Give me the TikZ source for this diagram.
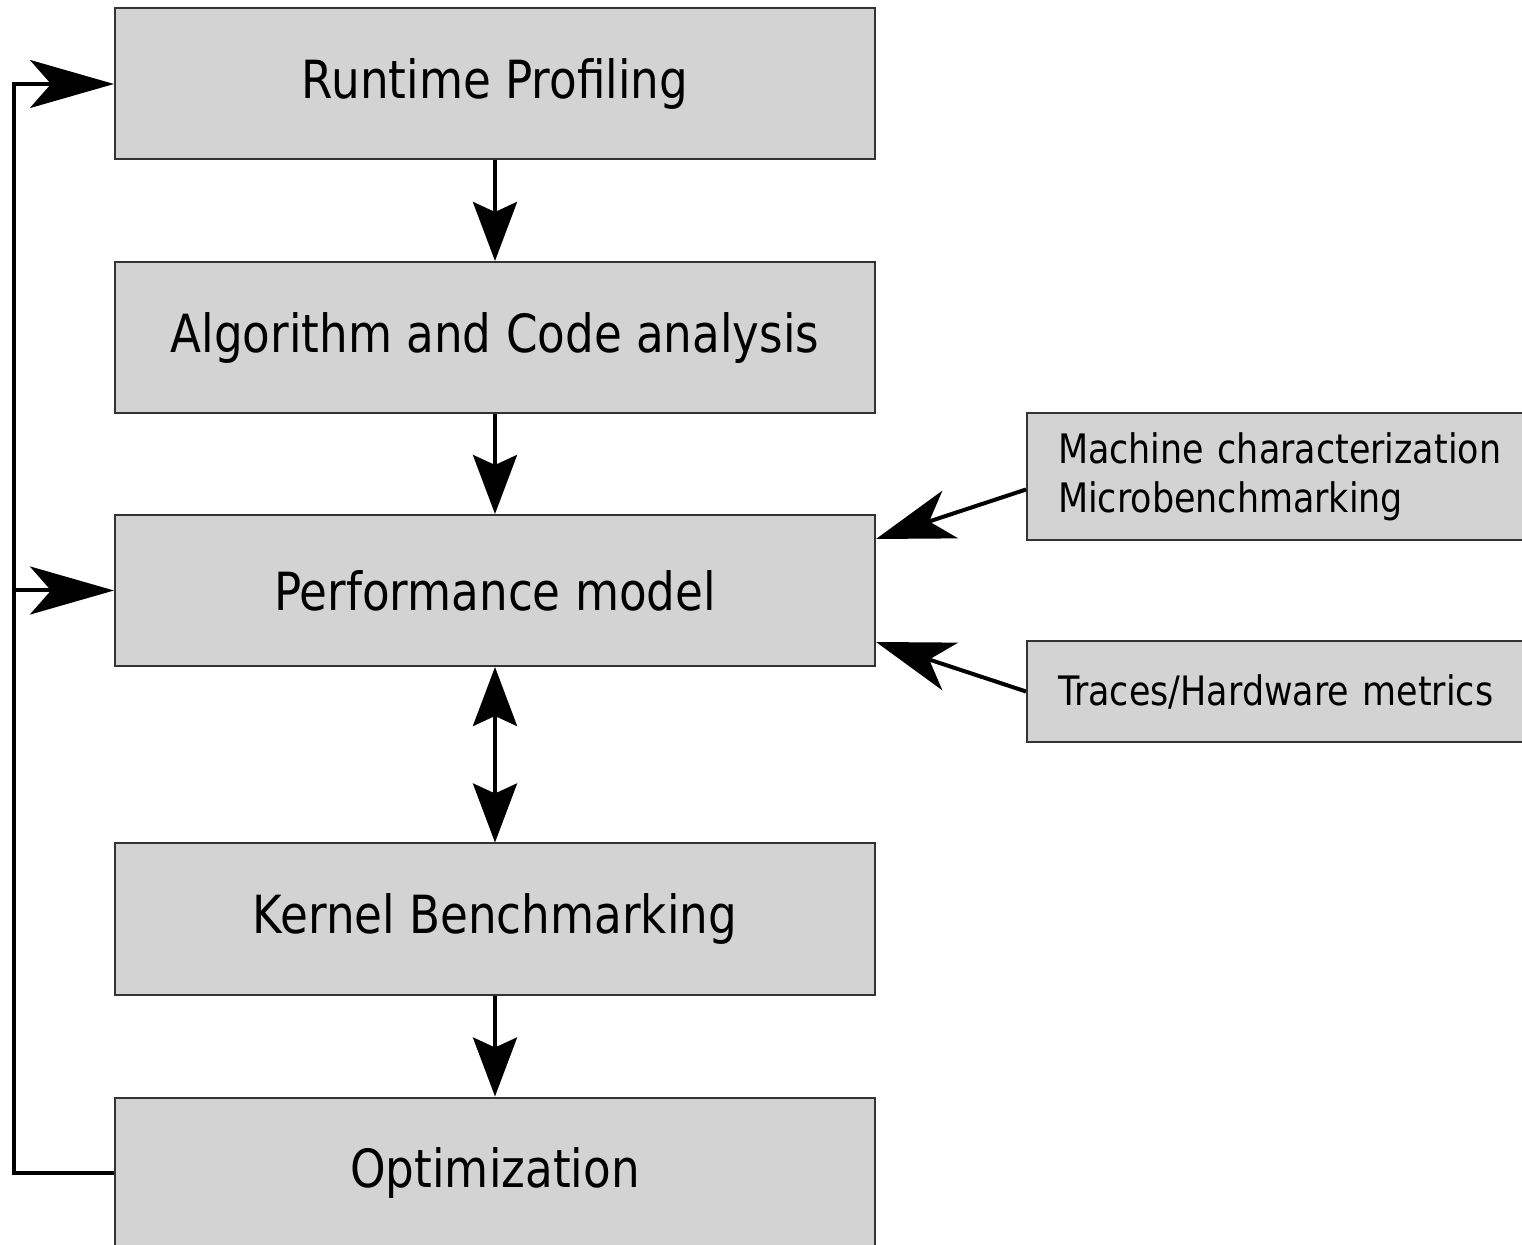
\documentclass[tikz,border=0pt]{standalone}
\usepackage{fontspec}
\setmainfont[FakeStretch=0.86]{DejaVu Sans}
\usetikzlibrary{arrows.meta,calc}
\definecolor{boxfill}{HTML}{D3D3D3}
\definecolor{boxline}{HTML}{333333}
\begin{document}
\begin{tikzpicture}[x=0.5pt,y=-0.5pt,
  mainbox/.style={draw=boxline,line width=1pt,fill=boxfill,minimum width=380pt,minimum height=75.5pt,inner sep=0pt,font=\fontsize{26.3}{30}\selectfont},
  sidebox/.style={draw=boxline,line width=1pt,fill=boxfill,inner xsep=15.5pt,inner ysep=0pt,align=left,font=\fontsize{20.3}{24.5}\selectfont},
  conn/.style={line width=2pt,black},
  tipdown/.style={-{Stealth[length=29.5pt,width=22pt,inset=5pt]}},
  tipboth/.style={{Stealth[length=29.5pt,width=22pt,inset=5pt]}-{Stealth[length=29.5pt,width=22pt,inset=5pt]}},
  tipleft/.style={-{Stealth[length=42pt,width=24pt,inset=10.5pt]}},
  tipside/.style={-{Stealth[length=39pt,width=25pt,inset=11pt]}}]
\clip (0,0) rectangle (1522,1245);
\useasboundingbox (0,0) rectangle (1522,1245);
\node[mainbox] (rp) at (495,84) {Runtime Profiling};
\node[mainbox] (ac) at (495,337.5) {Algorithm and Code analysis};
\node[mainbox] (pm) at (495,590.5) {Performance model};
\node[mainbox] (kb) at (495,919) {Kernel Benchmarking};
\node[mainbox] (op) at (495,1173) {Optimization};
\node[sidebox,minimum width=256.5pt,minimum height=63.5pt,text width=225.5pt] (mc) at (1283.5,476.5) {Machine characterization\\Microbenchmarking};
\node[sidebox,minimum width=256.5pt,minimum height=50.5pt,text width=225.5pt] (tr) at (1283.5,691.5) {Traces/Hardware metrics};
\draw[conn,tipdown] (rp.south) -- (ac.north);
\draw[conn,tipdown] (ac.south) -- (pm.north);
\draw[conn,tipboth] (pm.south) -- (kb.north);
\draw[conn,tipdown] (kb.south) -- (op.north);
\coordinate (fb) at (14,1173);
\draw[conn,tipleft] (op.west) -- (fb) |- (rp.west);
\draw[conn,tipleft] (fb |- pm.west) -- (pm.west);
\draw[conn,tipside] ($(mc.west)+(0,13)$) -- ($(pm.north east)+(0,25)$);
\draw[conn,tipside] (tr.west) -- ($(pm.south east)+(0,-25)$);
\end{tikzpicture}
\end{document}
